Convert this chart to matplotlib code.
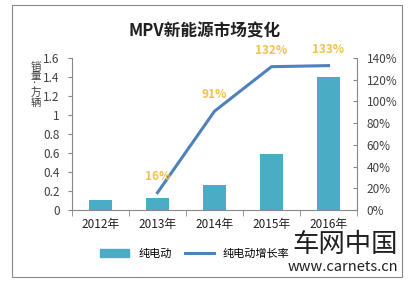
import matplotlib.pyplot as plt
from matplotlib.patches import Rectangle
from matplotlib.lines import Line2D

plt.rcParams['font.family'] = ['Noto Sans CJK SC', 'DejaVu Sans']

# data
years = ['2012年', '2013年', '2014年', '2015年', '2016年']
sales = [0.11, 0.13, 0.26, 0.59, 1.40]
growth_years = [1, 2, 3, 4]
growth = [16, 91, 132, 133]
growth_labels = ['16%', '91%', '132%', '133%']

bar_color = '#4BACC6'
line_color = '#4F81BD'
label_color = '#F2C14E'
text_color = '#404040'

fig = plt.figure(figsize=(4.09, 2.82), dpi=100)
fig.patch.set_facecolor('white')

# outer chart border
fig.patches.append(Rectangle((12 / 409, 1 - 277 / 282), 390 / 409, 272 / 282,
                             transform=fig.transFigure, fill=False,
                             edgecolor='#888888', linewidth=0.8))

ax = fig.add_axes([72 / 409, 1 - 210 / 282, 285 / 409, 152 / 282])
x = list(range(len(years)))
ax.bar(x, sales, width=0.39, color=bar_color, zorder=2)
ax.set_xlim(-0.5, 4.5)
ax.set_ylim(0, 1.6)
ax.set_yticks([0, 0.2, 0.4, 0.6, 0.8, 1.0, 1.2, 1.4, 1.6])
ax.set_yticklabels(['0', '0.2', '0.4', '0.6', '0.8', '1', '1.2', '1.4', '1.6'])
ax.set_xticks(x)
ax.set_xticklabels(years)
ax.set_xticks([-0.5, 0.5, 1.5, 2.5, 3.5, 4.5], minor=True)
ax.tick_params(axis='x', which='major', length=0, pad=6, labelsize=8.5, labelcolor='#202020')
ax.tick_params(axis='x', which='minor', length=4, color='#888888')
ax.tick_params(axis='y', length=3, color='#888888', labelsize=8.5, labelcolor=text_color, pad=6)
for s in ['top', 'right']:
    ax.spines[s].set_visible(False)
for s in ['left', 'bottom']:
    ax.spines[s].set_color('#888888')
    ax.spines[s].set_linewidth(0.8)

ax2 = ax.twinx()
ax2.plot(growth_years, growth, color=line_color, linewidth=2.2, zorder=3)
ax2.set_ylim(0, 140)
ax2.set_yticks(range(0, 141, 20))
ax2.set_yticklabels([f'{v}%' for v in range(0, 141, 20)])
ax2.tick_params(axis='y', direction='in', length=3, color='#888888', labelsize=8.5,
                labelcolor=text_color, pad=7)
for s in ['top', 'left', 'bottom']:
    ax2.spines[s].set_visible(False)
ax2.spines['right'].set_color('#888888')
ax2.spines['right'].set_linewidth(0.8)

for xi, yi, lab in zip(growth_years, growth, growth_labels):
    ax2.annotate(lab, (xi, yi), xytext=(0, 7), textcoords='offset points',
                 ha='center', va='bottom', color=label_color, fontsize=8.5, fontweight='bold')

fig.text(205 / 409, 1 - 31 / 282, 'MPV新能源市场变化', ha='center', va='center',
         fontsize=12, fontweight='bold', color='#202020')

fig.text(36 / 409, 1 - 85 / 282, '销\n量\n：\n万\n辆', ha='center', va='center',
         fontsize=7.5, color=text_color, linespacing=0.9)

handles = [Rectangle((0, 0), 1, 1, color=bar_color),
           Line2D([0], [0], color=line_color, linewidth=2.2)]
fig.legend(handles, ['纯电动', '纯电动增长率'], loc='center', ncol=2,
           bbox_to_anchor=(195 / 409, 1 - 254 / 282), frameon=False,
           fontsize=8, handlelength=2.6, columnspacing=1.2)

# watermark
fig.text(398 / 409, 1 - 244 / 282, '车网中国', ha='right', va='center',
         fontsize=19, color='#202020')
fig.text(398 / 409, 1 - 267 / 282, 'www.carnets.cn', ha='right', va='center',
         fontsize=10.5, color='#202020')

fig.savefig('out.png', dpi=100)
